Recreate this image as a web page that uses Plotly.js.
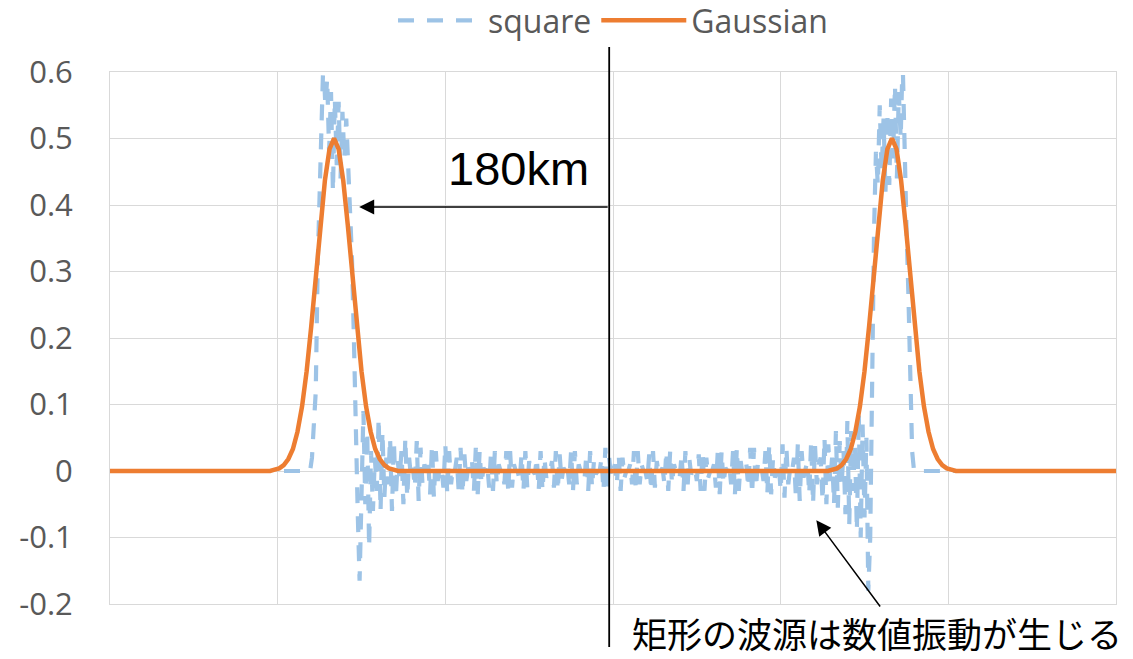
<!DOCTYPE html>
<html>
<head>
<meta charset="utf-8">
<script src="https://cdn.plot.ly/plotly-3.0.1.min.js"></script>
<style>
  html, body { margin: 0; padding: 0; background: #ffffff; }
  #chart { width: 1133px; height: 659px; }
</style>
</head>
<body>
<div id="chart"></div>
<script>
// Wave height profiles (distance in km from the source centre)

// Square source: sampled on a regular 1.25 km grid from -200 km to 200 km
const squareGridStart = -200;
const squareGridStep = 1.25;
const squareY = [
  0, 0, 0.02, 0.06, 0.12, 0.31, 0.42, 0.5, 0.62, 0.55,
  0.59, 0.48, 0.57, 0.42, 0.56, 0.46, 0.555, 0.44, 0.54, 0.47,
  0.53, 0.46, 0.40, 0.32, 0.2, 0.05, -0.06, -0.165, -0.02, 0.09,
  -0.05, 0.06, -0.115, 0.03, -0.06, 0.02, -0.03, 0.08, -0.06, 0.06,
  -0.04, 0.02, -0.02, 0.05, -0.06, 0.045, -0.04, 0.015, -0.01, 0.03,
  -0.05, 0.05, -0.04, 0.02, -0.01, 0.005, -0.025, 0.045, -0.045, 0.035,
  -0.02, 0.01, 0.0, 0.015, -0.035, 0.04, -0.04, 0.03, -0.015, 0.005,
  0.005, -0.025, 0.04, -0.035, 0.03, -0.02, 0.005, 0.0, 0.02, -0.03,
  0.035, -0.035, 0.025, -0.015, 0.005, 0.0, 0.015, -0.03, 0.035, -0.035,
  0.03, -0.02, 0.005, 0.0, 0.01, -0.025, 0.03, -0.03, 0.03, -0.02,
  0.01, 0.0, 0.0, -0.02, 0.03, -0.03, 0.03, -0.025, 0.01, 0.0,
  0.0, -0.015, 0.025, -0.03, 0.03, -0.025, 0.015, -0.005, 0.0, -0.005,
  0.02, -0.03, 0.03, -0.03, 0.02, -0.01, 0.0, 0.0, 0.015, -0.025,
  0.03, -0.03, 0.025, -0.015, 0.005, 0.0, 0.01, -0.02, 0.03, -0.03,
  0.03, -0.02, 0.01, 0.0, 0.0, -0.015, 0.025, -0.03, 0.03, -0.025,
  0.015, -0.005, 0.0, 0.0, 0.02, -0.03, 0.035, -0.03, 0.02, -0.01,
  0.0,
  0.01, -0.02, 0.025, -0.03, 0.02, -0.01, 0.0, 0.0, 0.01, -0.02,
  0.03, -0.03, 0.03, -0.02, 0.01, 0.0, 0.0, -0.015, 0.025, -0.03,
  0.03, -0.025, 0.015, -0.005, 0.0, 0.005, -0.02, 0.03, -0.03, 0.03,
  -0.02, 0.01, 0.0, 0.0, -0.01, 0.025, -0.03, 0.03, -0.03, 0.02,
  -0.005, 0.0, 0.005, -0.015, 0.025, -0.03, 0.03, -0.03, 0.02, -0.01,
  0.0, 0.0, 0.01, -0.025, 0.03, -0.035, 0.03, -0.02, 0.005, 0.0,
  0.01, -0.02, 0.03, -0.035, 0.035, -0.03, 0.015, -0.005, 0.0, 0.01,
  -0.025, 0.035, -0.035, 0.035, -0.025, 0.01, 0.0, 0.005, -0.015, 0.03,
  -0.035, 0.04, -0.035, 0.02, -0.01, 0.0, 0.01, -0.03, 0.04, -0.04,
  0.035, -0.02, 0.005, 0.0, 0.02, -0.04, 0.04, -0.045, 0.03, -0.01,
  0.005, 0.015, -0.035, 0.045, -0.05, 0.04, -0.02, 0.01, 0.02, -0.045,
  0.05, -0.05, 0.04, -0.015, 0.02, -0.05, 0.06, -0.055, 0.045, -0.02,
  0.03, -0.065, 0.075, -0.08, 0.06, -0.03, 0.04, -0.09, 0.087, -0.1,
  0.07, -0.07, 0.05, -0.18, -0.1, 0.15, 0.36, 0.48, 0.43, 0.55,
  0.45, 0.53, 0.42, 0.54, 0.43, 0.56, 0.47, 0.58, 0.44, 0.57,
  0.5, 0.62, 0.45, 0.37, 0.27, 0.14, 0.03, 0.0, 0.0, 0.0
];

// Gaussian source
const gaussX = [
  -330,
  -225, -222, -219, -216, -213, -210, -207, -204, -201, -198, -195, -192, -189, -186,
  -183, -180, -177, -174, -171, -168, -165, -162, -159, -156, -153, -150, -147, -144, -141,
  141, 144, 147, 150, 153, 156, 159, 162, 165, 168, 171, 174, 177, 180,
  183, 186, 189, 192, 195, 198, 201, 204, 207, 210, 213, 216, 219, 222, 225,
  330
];
const gaussY = [
  0,
  0, 0.002, 0.004, 0.009, 0.018, 0.033, 0.059, 0.097, 0.150, 0.217, 0.293, 0.370, 0.437, 0.484,
  0.5, 0.484, 0.437, 0.370, 0.293, 0.217, 0.150, 0.097, 0.059, 0.033, 0.018, 0.009, 0.004, 0.002, 0,
  0, 0.002, 0.004, 0.009, 0.018, 0.033, 0.059, 0.097, 0.150, 0.217, 0.293, 0.370, 0.437, 0.484,
  0.5, 0.484, 0.437, 0.370, 0.293, 0.217, 0.150, 0.097, 0.059, 0.033, 0.018, 0.009, 0.004, 0.002, 0,
  0
];

const seriesNames = ['square', 'Gaussian'];
const yTickValues = [0.6, 0.5, 0.4, 0.3, 0.2, 0.1, 0, -0.1, -0.2];
const yTickLabels = ['0.6', '0.5', '0.4', '0.3', '0.2', '0.1', '0', '-0.1', '-0.2'];
const xExtent = [-330, 330];
const distanceLabel = '180km';
const noteLabel = '矩形の波源は数値振動が生じる';

// Full square profile: quiet water outside the sampled grid
const squareX = [xExtent[0]];
const squareYFull = [0];
squareY.forEach(function (v, i) {
  squareX.push(squareGridStart + i * squareGridStep);
  squareYFull.push(v);
});
squareX.push(xExtent[1]);
squareYFull.push(0);

const axisGray = '#d9d9d9';
const textGray = '#595959';

const traces = [
  {
    x: squareX, y: squareYFull, name: seriesNames[0],
    type: 'scatter', mode: 'lines',
    line: { color: '#9dc3e6', width: 4.2, dash: '16px,13px' },
    hoverinfo: 'skip'
  },
  {
    x: gaussX, y: gaussY, name: seriesNames[1],
    type: 'scatter', mode: 'lines',
    line: { color: '#ed7d31', width: 4.5 },
    hoverinfo: 'skip'
  }
];

const layout = {
  width: 1133, height: 659,
  margin: { l: 110, r: 17, t: 72, b: 55, autoexpand: false },
  paper_bgcolor: '#ffffff', plot_bgcolor: '#ffffff',
  font: { family: '"Open Sans", sans-serif', size: 31, color: textGray },
  showlegend: true,
  legend: {
    orientation: 'h', x: 0.5, xanchor: 'center', y: 1.045, yanchor: 'bottom',
    font: { family: '"Open Sans", sans-serif', size: 32, color: textGray },
    itemwidth: 85, bgcolor: 'rgba(0,0,0,0)'
  },
  xaxis: {
    range: xExtent, tick0: 0, dtick: 110,
    showticklabels: false, ticks: '',
    showgrid: true, gridcolor: axisGray, gridwidth: 1,
    zeroline: false, showline: true, linecolor: axisGray, linewidth: 1, mirror: true
  },
  yaxis: {
    range: [-0.2, 0.6], tickvals: yTickValues, ticktext: yTickLabels,
    ticks: '', ticklabelstandoff: 30,
    tickfont: { family: '"Open Sans", sans-serif', size: 31, color: textGray },
    showgrid: true, gridcolor: axisGray, gridwidth: 1,
    zeroline: false, showline: true, linecolor: axisGray, linewidth: 1, mirror: true
  },
  shapes: [
    {
      type: 'line', xref: 'x', yref: 'paper',
      x0: -2.5, x1: -2.5, y0: -0.081, y1: 1.047,
      line: { color: '#000000', width: 1.8 }
    }
  ],
  annotations: [
    {
      x: -62, y: 0.455, xref: 'x', yref: 'y',
      text: distanceLabel, showarrow: false,
      xanchor: 'center', yanchor: 'middle',
      font: { family: '"Liberation Sans", Arial, sans-serif', size: 47, color: '#000000' }
    },
    {
      x: -166.5, y: 0.397, xref: 'x', yref: 'y',
      ax: -2.5, ay: 0.397, axref: 'x', ayref: 'y',
      text: '', showarrow: true,
      arrowhead: 2, arrowsize: 2, arrowwidth: 1.5, arrowcolor: '#000000'
    },
    {
      x: 133.4, y: -0.074, xref: 'x', yref: 'y',
      ax: 176, ay: -0.206, axref: 'x', ayref: 'y',
      text: '', showarrow: true,
      arrowhead: 2, arrowsize: 2, arrowwidth: 1.5, arrowcolor: '#000000'
    },
    {
      x: 173.5, y: -0.0545, xref: 'x', yref: 'paper',
      text: noteLabel, showarrow: false, borderpad: 0,
      xanchor: 'center', yanchor: 'middle',
      font: { family: '"Noto Sans CJK JP", sans-serif', size: 35, color: '#000000' }
    }
  ]
};

Plotly.newPlot('chart', traces, layout, { staticPlot: true, displayModeBar: false });
</script>
</body>
</html>
